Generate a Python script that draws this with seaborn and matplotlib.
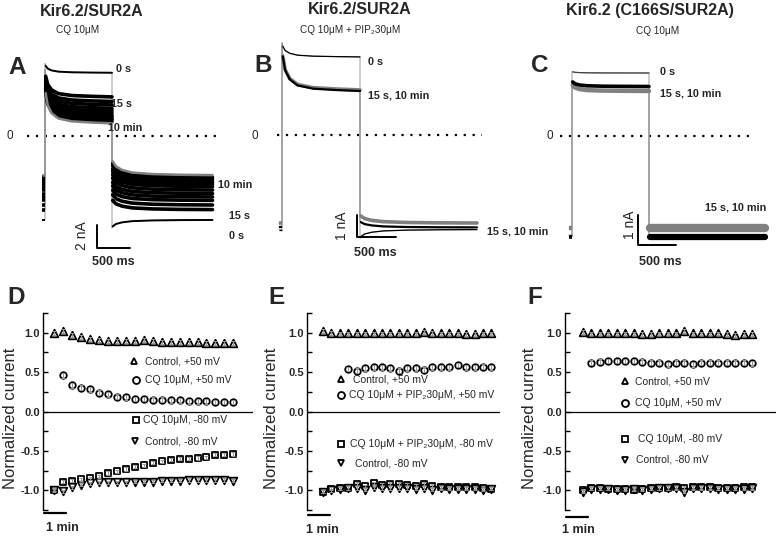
import matplotlib
matplotlib.use("Agg")
import matplotlib.pyplot as plt
from matplotlib.lines import Line2D
import seaborn as sns
import pandas as pd

sns.set_style("white")
plt.rcParams['font.family'] = ['Liberation Sans', 'DejaVu Sans']

W, H = 776, 536

# voltage protocol time points (ms): +50 mV from 0 to 1000, then -80 mV
T_PRE = [-40, 0]
T_POS = [0, 10, 40, 100, 200, 400, 700, 1000]
T_NEG = [1000, 1010, 1060, 1150, 1300, 1600, 2000, 2500]
# how far each sweep still is from its steady level
POS_DECAY = [1.0, 0.75, 0.45, 0.25, 0.12, 0.05, 0.02, 0.0]
NEG_DECAY = [1.0, 0.8, 0.5, 0.3, 0.15, 0.06, 0.02, 0.0]

# A: Kir6.2/SUR2A, CQ 10uM; sweeps 0 s, 15 s ... 10 min (nA)
A_PEAK = [6.3, 5.8, 5.6, 5.5, 5.4, 5.3, 5.2, 5.1, 5.0, 4.9, 4.8, 4.7, 4.6]
A_STEADY = [5.5, 3.4, 3.0, 2.7, 2.4, 2.2, 2.0, 1.8, 1.65, 1.5, 1.4, 1.25, 1.1]
A_NEG_EARLY = [-8.0, -5.4, -4.9, -4.5, -4.1, -3.8, -3.4, -3.1, -2.8, -2.6, -2.3, -2.1, -1.9]
A_NEG_LATE = [-7.3, -6.4, -6.0, -5.6, -5.3, -5.0, -4.7, -4.4, -4.2, -4.0, -3.8, -3.6, -3.4]

# B: CQ 10uM + PIP2 30uM; sweeps 0 s, 15 s, 10 min
B_PEAK = [4.2, 4.1, 4.1]
B_STEADY = [3.55, 2.05, 2.0]
B_NEG_EARLY = [-4.7, -3.6, -3.9]
B_NEG_LATE = [-4.3, -4.0, -4.2]

# C: Kir6.2 C166S/SUR2A, CQ 10uM; sweeps 0 s, 10 min, 15 s
C_PEAK = [2.15, 1.75, 1.85]
C_STEADY = [2.1, 1.5, 1.65]
C_NEG_EARLY = [-3.3, -3.0, -3.35]
C_NEG_LATE = [-3.3, -3.05, -3.35]

# D-F: normalized current, one point per sweep
D_CTRL_POS = [1.00, 1.02, 0.97, 0.95, 0.92, 0.91, 0.89, 0.90, 0.90, 0.90, 0.91,
              0.90, 0.88, 0.88, 0.88, 0.88, 0.88, 0.87, 0.87, 0.87, 0.87]
D_CQ_POS = [0.46, 0.33, 0.30, 0.28, 0.24, 0.22, 0.19, 0.18, 0.16, 0.16, 0.15,
            0.15, 0.14, 0.14, 0.13, 0.13, 0.13, 0.12, 0.12, 0.12]
D_CQ_NEG = [-0.99, -0.89, -0.88, -0.86, -0.85, -0.82, -0.78, -0.76, -0.73, -0.70, -0.68,
            -0.65, -0.63, -0.61, -0.60, -0.60, -0.59, -0.58, -0.55, -0.55, -0.54]
D_CTRL_NEG = [-1.00, -1.01, -0.96, -0.93, -0.91, -0.90, -0.90, -0.90, -0.90, -0.89, -0.89,
              -0.89, -0.88, -0.88, -0.88, -0.87, -0.87, -0.87, -0.87, -0.87, -0.88]

E_CTRL_POS = [1.02, 1.00, 0.99, 0.99, 0.99, 0.99, 0.99, 0.99, 0.99, 0.99, 0.99,
              0.99, 1.01, 1.00, 0.99, 0.99, 0.99, 0.98, 0.98, 0.99, 0.99]
E_CQ_POS = [0.54, 0.52, 0.55, 0.56, 0.56, 0.55, 0.52, 0.55, 0.55, 0.53, 0.56,
            0.56, 0.56, 0.59, 0.56, 0.56, 0.57, 0.56]
E_CQ_NEG = [-1.02, -0.98, -0.97, -0.97, -0.92, -0.95, -0.91, -0.93, -0.92, -0.92, -0.93,
            -0.94, -0.92, -0.94, -0.96, -0.96, -0.96, -0.96, -0.96, -0.97, -0.98]
E_CTRL_NEG = [-1.02, -1.00, -0.98, -0.97, -0.97, -0.99, -0.96, -0.97, -0.97, -0.97, -0.97,
              -0.98, -0.97, -0.99, -0.97, -0.98, -0.98, -0.98, -0.98, -0.99, -0.98]

F_CTRL_POS = [1.01, 0.99, 0.99, 0.99, 0.99, 0.99, 0.99, 0.98, 0.98, 0.99, 0.99,
              0.99, 1.02, 0.99, 0.99, 0.99, 0.99, 0.98, 0.97, 0.98, 0.98]
F_CQ_POS = [0.62, 0.63, 0.64, 0.64, 0.64, 0.64, 0.63, 0.62, 0.62, 0.60, 0.62,
            0.62, 0.60, 0.62, 0.62, 0.62, 0.62, 0.62, 0.62, 0.61]
F_CQ_NEG = [-1.00, -0.97, -0.97, -0.98, -0.98, -0.98, -0.99, -0.98, -0.97, -0.97, -0.97,
            -0.96, -0.97, -0.96, -0.96, -0.96, -0.97, -0.97, -0.97, -0.96, -0.96]
F_CTRL_NEG = [-1.02, -0.98, -0.98, -0.98, -0.99, -0.99, -0.98, -0.99, -0.98, -0.97, -0.97,
              -0.97, -1.02, -0.97, -0.97, -0.97, -0.98, -0.98, -0.98, -0.98, -0.97]

# sweep index where the CQ +50 mV series starts, and sem (approx.)
D_CQ_START, E_CQ_START, F_CQ_START = 1, 3, 1
SEM = {'ctrl_pos': 0.025, 'cq_pos': 0.03, 'cq_neg': 0.02, 'ctrl_neg': 0.02}

fig = plt.figure(figsize=(W / 100, H / 100), dpi=100)


def px_rect(l, t, r, b):
    return [l / W, 1 - b / H, (r - l) / W, (b - t) / H]


def ftext(x, y, s, **kw):
    kw.setdefault('ha', 'left')
    kw.setdefault('va', 'center')
    fig.text(x / W, 1 - y / H, s, **kw)


def trace_axes(l, t, r, b, t0, ppms, zero, ppna):
    ax = fig.add_axes(px_rect(l, t, r, b))
    ax.set_xlim((l - t0) / ppms, (r - t0) / ppms)
    ax.set_ylim((zero - b) / ppna, (zero - t) / ppna)
    ax.axis('off')
    return ax


def draw_sweeps(ax, peak, steady, early, late, colors, widths):
    traces = []
    for pk, ss, ea, la in zip(peak, steady, early, late):
        pos = [ss + (pk - ss) * f for f in POS_DECAY]
        neg = [la + (ea - la) * f for f in NEG_DECAY]
        traces.append((pos, neg, la))
        ax.plot(T_PRE + T_POS + T_NEG, [la, la] + pos + neg, color='0.6', lw=0.7)
    for (pos, neg, la), c, w in zip(traces, colors, widths):
        ax.plot(T_PRE, [la, la], color=c, lw=w, solid_capstyle='butt')
        ax.plot(T_POS[1:], pos[1:], color=c, lw=w)
        ax.plot(T_NEG[1:], neg[1:], color=c, lw=w)


def scale_bar(ax, t, i, nA, label_nA, xy_nA, xy_ms):
    ax.plot([t, t, t + 500], [i + nA, i, i], color='black', lw=1.4)
    ftext(*xy_nA, label_nA, rotation=90, ha='center', fontsize=10)
    ftext(*xy_ms, '500 ms', ha='center', fontsize=9, fontweight='bold')


def zero_line(ax, t1, t2):
    ax.plot([t1, t2], [0, 0], color='black', lw=1.6, ls=(0, (1, 3.0)))


# ---------- A ----------
axA = trace_axes(20, 40, 258, 275, 45, 0.067, 136, 11.5)
zero_line(axA, -270, 2610)
n = len(A_PEAK)
draw_sweeps(axA, A_PEAK, A_STEADY, A_NEG_EARLY, A_NEG_LATE,
            ['black'] * (n - 1) + ['0.5'], [1.4] + [2.6] * (n - 2) + [1.8])
scale_bar(axA, 776, -9.74, 2, '2 nA', (82, 236), (113, 262))

# ---------- B ----------
axB = trace_axes(265, 35, 520, 275, 282, 0.078, 135, 22)
zero_line(axB, -64, 2564)
draw_sweeps(axB, B_PEAK, B_STEADY, B_NEG_EARLY, B_NEG_LATE,
            ['black', '0.5', 'black'], [0.9, 2.6, 1.6])
scale_bar(axB, 962, -4.64, 1, '1 nA', (342, 226), (375, 253))

# ---------- C ----------
axC = trace_axes(540, 40, 776, 275, 572, 0.077, 136, 30)
zero_line(axC, -156, 2338)
draw_sweeps(axC, C_PEAK, C_STEADY, C_NEG_EARLY, C_NEG_LATE,
            ['0.25', '0.5', 'black'], [0.9, 3.2, 2.6])
axC.plot(T_NEG[1:], [C_NEG_LATE[1]] * (len(T_NEG) - 1), color='0.5', lw=6)
axC.plot(T_NEG[1:], [C_NEG_LATE[2]] * (len(T_NEG) - 1), color='black', lw=4.5)
scale_bar(axC, 857, -3.63, 1, '1 nA', (630, 225), (660, 262))

# titles and labels of the trace panels
for x, y, s in [(92, 11, 'Kir6.2/SUR2A'), (360, 10, 'Kir6.2/SUR2A'),
                (650, 11, 'Kir6.2 (C166S/SUR2A)')]:
    ftext(x, y, s, ha='center', fontsize=11.5, fontweight='bold')
for x, y, s in [(78, 30, 'CQ 10μM'), (350, 30, 'CQ 10μM + PIP₂30μM'),
                (658, 31, 'CQ 10μM')]:
    ftext(x, y, s, ha='center', fontsize=7.2)
for x, y, s in [(17, 67, 'A'), (263, 66, 'B'), (540, 66, 'C'),
                (16, 297, 'D'), (277, 297, 'E'), (535, 297, 'F')]:
    ftext(x, y, s, ha='center', fontsize=17.5, fontweight='bold')
for x, y in [(10, 136), (255, 136), (550, 136)]:
    ftext(x, y, '0', ha='center', fontsize=8.5)
for x, y, s in [(116, 69, '0 s'), (111, 104, '15 s'), (108, 128, '10 min'),
                (218, 185, '10 min'), (229, 216, '15 s'), (229, 236, '0 s'),
                (368, 62, '0 s'), (368, 96, '15 s, 10 min'), (487, 232, '15 s, 10 min'),
                (660, 72, '0 s'), (660, 93, '15 s, 10 min'), (705, 207, '15 s, 10 min')]:
    ftext(x, y, s, fontsize=7.8, fontweight='bold')

# ---------- D-F ----------
MARKERS = {'ctrl_pos': '^', 'cq_pos': 'o', 'cq_neg': 's', 'ctrl_neg': 'v'}
SIZES = {'ctrl_pos': 30, 'cq_pos': 22, 'cq_neg': 19, 'ctrl_neg': 30}


def norm_panel(spine_x, right_x, first_x, step, series, legend, bar_y, min_xy, ylab_x):
    ax = fig.add_axes(px_rect(spine_x, 313, right_x, 510))
    ax.set_xlim((spine_x - first_x) / step, (right_x - first_x) / step)
    ax.set_ylim(-1.25, 1.25)
    for key in ['ctrl_pos', 'cq_pos', 'cq_neg', 'ctrl_neg']:
        vals, start = series[key]
        df = pd.DataFrame({'sweep': range(start, start + len(vals)), 'current': vals})
        sns.scatterplot(data=df, x='sweep', y='current', ax=ax, marker=MARKERS[key],
                        s=SIZES[key], color='white', edgecolor='black', linewidth=1.3,
                        zorder=3, legend=False)
        ax.errorbar(df['sweep'], df['current'], yerr=SEM[key], fmt='none',
                    ecolor='0.6', elinewidth=0.7, capsize=1.5, capthick=0.7, zorder=4)
    ax.axhline(0, color='black', lw=0.9, zorder=1)
    for s in ['top', 'right', 'bottom']:
        ax.spines[s].set_visible(False)
    ax.spines['left'].set_linewidth(1.0)
    ax.spines['left'].set_color('black')
    ax.set_yticks([-1.0, -0.5, 0.0, 0.5, 1.0])
    ax.set_yticks([-1.25, -0.75, -0.25, 0.25, 0.75, 1.25], minor=True)
    ax.set_yticklabels(['-1.0', '-0.5', '0.0', '0.5', '1.0'], fontsize=8, fontweight='bold')
    ax.tick_params(axis='y', which='both', direction='in', length=3.5, width=1,
                   left=True, color='black', pad=2)
    ax.set_xticks([])
    ax.set_xlabel('')
    ax.set_ylabel('')
    # 1 min scale bar below the points
    ax.plot([(spine_x + 1 - first_x) / step, (spine_x + 23 - first_x) / step],
            [bar_y, bar_y], color='black', lw=1.6, clip_on=False)
    ftext(*min_xy, '1 min', ha='center', fontsize=9, fontweight='bold')
    ftext(ylab_x, 418, 'Normalized current', ha='center', rotation=90, fontsize=12)
    for key, mx, my, tx, label in legend:
        fig.add_artist(Line2D([mx / W], [1 - my / H], marker=MARKERS[key], ms=5,
                              mfc='white', mec='black', mew=1.3, ls='none',
                              transform=fig.transFigure))
        ftext(tx, my, label, fontsize=7.5)
    return ax


norm_panel(43, 253, 54, 8.97,
           {'ctrl_pos': (D_CTRL_POS, 0), 'cq_pos': (D_CQ_POS, D_CQ_START),
            'cq_neg': (D_CQ_NEG, 0), 'ctrl_neg': (D_CTRL_NEG, 0)},
           [('ctrl_pos', 134, 361, 145, 'Control, +50 mV'),
            ('cq_pos', 136, 380, 145, 'CQ 10μM, +50 mV'),
            ('cq_neg', 136, 420, 143, 'CQ 10μM, -80 mV'),
            ('ctrl_neg', 135, 441, 145, 'Control, -80 mV')],
           -1.29, (62, 528), 11)

norm_panel(307, 500, 323, 8.42,
           {'ctrl_pos': (E_CTRL_POS, 0), 'cq_pos': (E_CQ_POS, E_CQ_START),
            'cq_neg': (E_CQ_NEG, 0), 'ctrl_neg': (E_CTRL_NEG, 0)},
           [('ctrl_pos', 341, 379, 353, 'Control, +50 mV'),
            ('cq_pos', 341, 395, 349, 'CQ 10μM + PIP₂30μM, +50 mV'),
            ('cq_neg', 341, 444, 350, 'CQ 10μM + PIP₂30μM, -80 mV'),
            ('ctrl_neg', 341, 463, 355, 'Control, -80 mV')],
           -1.31, (322, 530), 271)

norm_panel(565, 776, 583, 8.45,
           {'ctrl_pos': (F_CTRL_POS, 0), 'cq_pos': (F_CQ_POS, F_CQ_START),
            'cq_neg': (F_CQ_NEG, 0), 'ctrl_neg': (F_CTRL_NEG, 0)},
           [('ctrl_pos', 625, 381, 635, 'Control, +50 mV'),
            ('cq_pos', 625, 403, 635, 'CQ 10μM, +50 mV'),
            ('cq_neg', 625, 439, 638, 'CQ 10μM, -80 mV'),
            ('ctrl_neg', 625, 460, 636, 'Control, -80 mV')],
           -1.34, (578, 530), 529)

fig.savefig('out.png', dpi=100)
